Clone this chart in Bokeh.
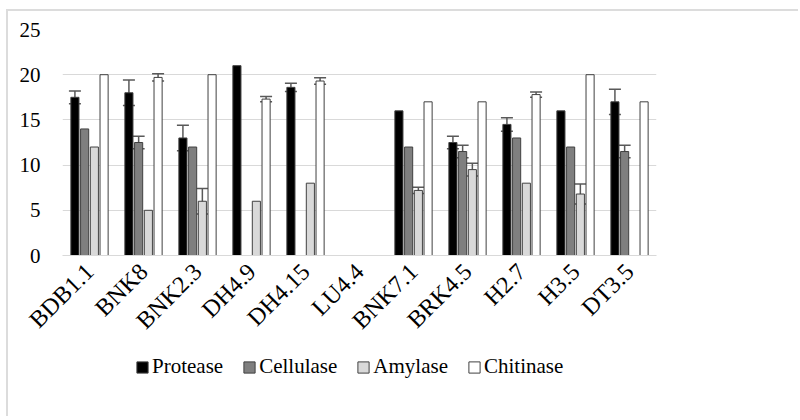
import math
from bokeh.plotting import figure
from bokeh.layouts import column
from bokeh.models import (ColumnDataSource, FactorRange, Range1d, Legend, LegendItem,
                          Whisker, TeeHead, FixedTicker)
from bokeh.transform import dodge
from bokeh.embed import file_html
from bokeh.resources import INLINE

strains = ["BDB1.1", "BNK8", "BNK2.3", "DH4.9", "DH4.15", "LU4.4",
           "BNK7.1", "BRK4.5", "H2.7", "H3.5", "DT3.5"]
series = ["Protease", "Cellulase", "Amylase", "Chitinase"]

protease = [17.5, 18.0, 13.0, 21.0, 18.6, 0, 16.0, 12.5, 14.5, 16.0, 17.0]
cellulase = [14.0, 12.5, 12.0, 0, 0, 0, 12.0, 11.5, 13.0, 12.0, 11.5]
amylase = [12.0, 5.0, 6.0, 6.0, 8.0, 0, 7.2, 9.5, 8.0, 6.8, 0]
chitinase = [20.0, 19.7, 20.0, 17.3, 19.3, 0, 17.0, 17.0, 17.8, 20.0, 17.0]

protease_err = [0.7, 1.4, 1.4, 0, 0.45, 0, 0, 0.7, 0.75, 0, 1.4]
cellulase_err = [0, 0.7, 0, 0, 0, 0, 0, 0.7, 0, 0, 0.7]
amylase_err = [0, 0, 1.4, 0, 0, 0, 0.35, 0.7, 0, 1.1, 0]
chitinase_err = [0, 0.4, 0, 0.3, 0.35, 0, 0, 0, 0.3, 0, 0]

y_ticks = [0, 5, 10, 15, 20, 25]

values = [protease, cellulase, amylase, chitinase]
errors = [protease_err, cellulase_err, amylase_err, chitinase_err]
fills = ["#000000", "#7f7f7f", "#d9d9d9", "#ffffff"]
OUTLINE = "#404040"
ERRC = "#595959"
FONT = "Liberation Serif"

W = 790
H1 = 334
H2 = 71

p = figure(x_range=FactorRange(factors=strains, range_padding=0),
           y_range=Range1d(0, 25),
           width=W, height=H1, output_backend="svg", toolbar_location=None,
           min_border_left=54, min_border_right=142, min_border_top=18,
           min_border_bottom=90)
p.outline_line_color = None
p.background_fill_color = "white"
p.border_fill_color = "white"

p.xgrid.grid_line_color = None
p.ygrid.grid_line_color = "#d9d9d9"
p.ygrid.grid_line_width = 1

p.yaxis.ticker = FixedTicker(ticks=y_ticks)
p.yaxis.axis_line_color = None
p.yaxis.major_tick_line_color = None
p.yaxis.minor_tick_line_color = None
p.yaxis.major_label_text_font = FONT
p.yaxis.major_label_text_font_size = "21px"
p.yaxis.major_label_text_color = "#000000"
p.yaxis.major_label_standoff = 16

p.xaxis.axis_line_color = "#d9d9d9"
p.xaxis.major_tick_line_color = None
p.xaxis.minor_tick_line_color = None
p.xaxis.major_label_orientation = math.pi / 4
p.xaxis.major_label_text_font = FONT
p.xaxis.major_label_text_font_size = "24px"
p.xaxis.major_label_text_color = "#000000"
p.xaxis.major_label_standoff = 6

# separate strip holding the legend, below the chart
lp = figure(width=W, height=H2, output_backend="svg", toolbar_location=None,
            x_axis_type=None, y_axis_type=None,
            x_range=Range1d(0, 1), y_range=Range1d(0, 1),
            min_border_left=0, min_border_right=0, min_border_top=0, min_border_bottom=0)
lp.grid.visible = False
lp.outline_line_color = None
lp.background_fill_color = "white"
lp.border_fill_color = "white"

NAN = float("nan")
step = 0.18
width = 0.15
items = []
for i, (name, vals, errs, fc) in enumerate(zip(series, values, errors, fills)):
    off = (i - 1.5) * step
    tops = [v if v > 0 else NAN for v in vals]
    src = ColumnDataSource(dict(strain=strains, top=tops))
    p.vbar(x=dodge("strain", off, range=p.x_range), top="top", width=width,
           source=src, fill_color=fc, line_color=OUTLINE, line_width=1)
    # legend-only swatch renderer (no visible data)
    lr = lp.vbar(x=[NAN], top=[NAN], width=0.1, fill_color=fc, line_color=OUTLINE, line_width=1)
    items.append(LegendItem(label=name, renderers=[lr]))
    ws = [s for s, e in zip(strains, errs) if e > 0]
    wu = [v + e for v, e in zip(vals, errs) if e > 0]
    wl = [v - e for v, e in zip(vals, errs) if e > 0]
    if ws:
        esrc = ColumnDataSource(dict(strain=ws, upper=wu, lower=wl))
        w = Whisker(base=dodge("strain", off, range=p.x_range), upper="upper", lower="lower",
                    source=esrc, line_color=ERRC, line_width=1.5,
                    upper_head=TeeHead(size=12, line_color=ERRC, line_width=1.5),
                    lower_head=TeeHead(size=12, line_color=ERRC, line_width=1.5))
        p.add_layout(w)

legend = Legend(items=items, orientation="horizontal", location=(73, 37),
                glyph_width=14, glyph_height=14, label_standoff=3, spacing=19,
                padding=0, margin=0, border_line_color=None, background_fill_alpha=0,
                label_text_font=FONT, label_text_font_size="21px",
                label_text_color="#000000")
lp.add_layout(legend, "center")

layout = column(p, lp, spacing=0,
                styles={"margin-left": "6px", "margin-top": "9px",
                        "border-left": "2px solid #dcdcdc", "border-top": "2px solid #dcdcdc"})

open("out.html", "w").write(file_html(layout, INLINE))
